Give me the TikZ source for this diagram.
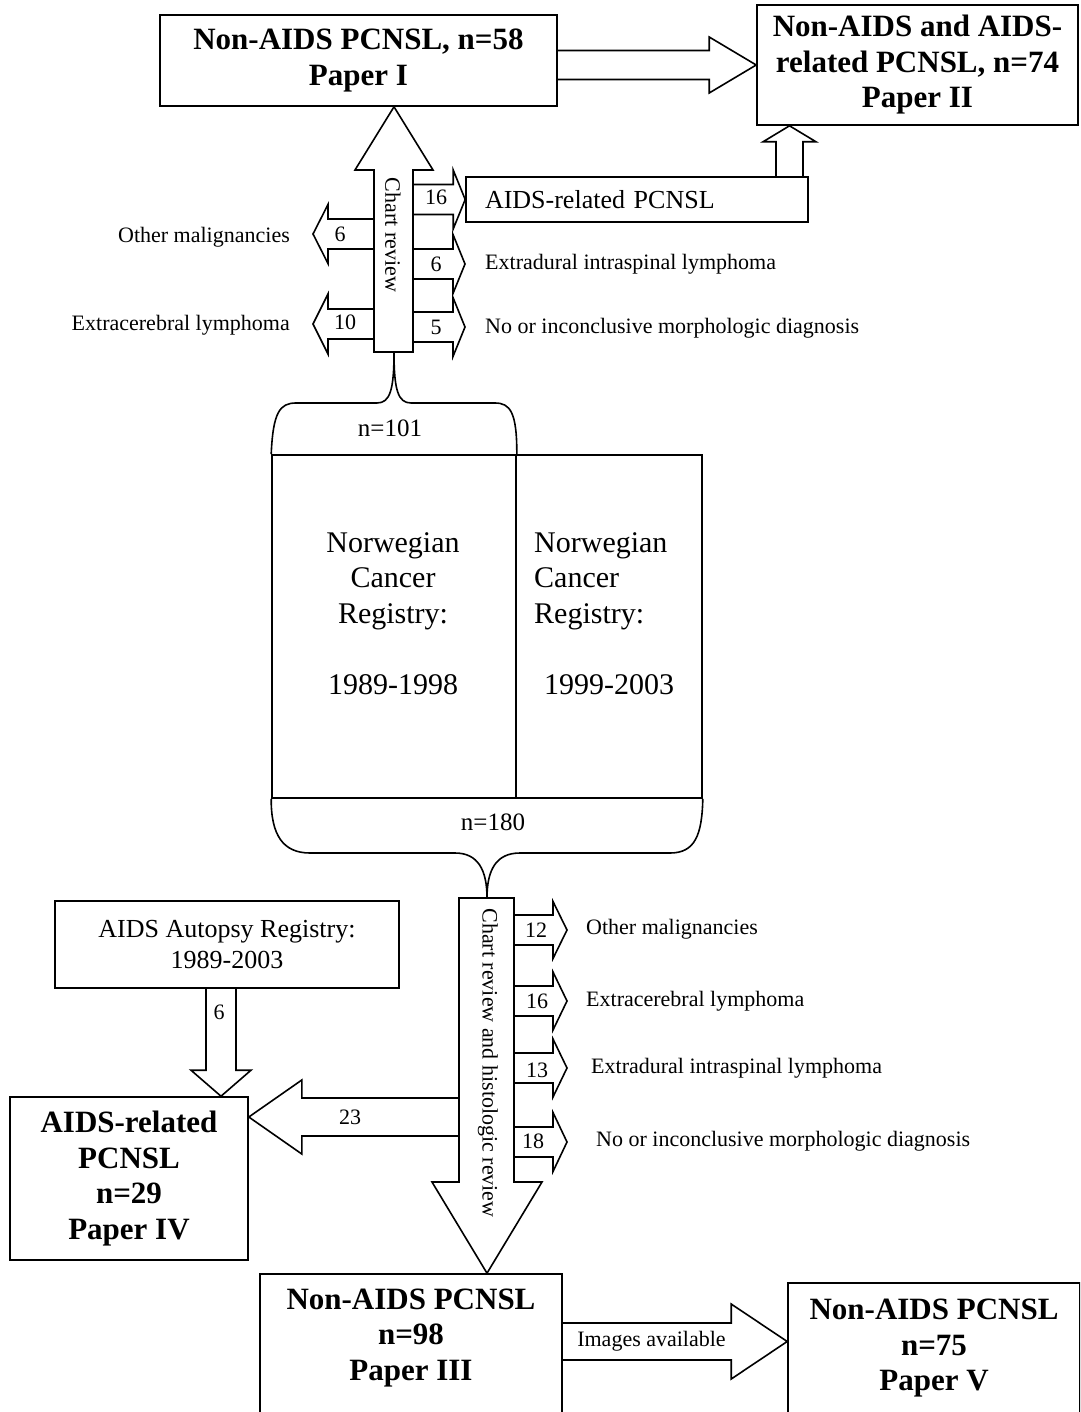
\documentclass[tikz,border=0pt]{standalone}
\usepackage{fontspec}
\setmainfont{Liberation Serif}
\usetikzlibrary{positioning, calc}
\newcommand{\hblock}[5]{%
    \draw[blockarrow] let \p1=(#1), \p2=(#2) in
        (\x1,{\y2+#4}) -- ({\x2+(#3)},{\y2+#4}) -- ({\x2+(#3)},{\y2+#5}) -- (\p2)
        -- ({\x2+(#3)},{\y2-#5}) -- ({\x2+(#3)},{\y2-#4}) -- (\x1,{\y2-#4});}
\newcommand{\vblock}[5]{%
    \draw[blockarrow] let \p1=(#1), \p2=(#2) in
        ({\x2-#4},\y1) -- ({\x2-#4},{\y2+(#3)}) -- ({\x2-#5},{\y2+(#3)}) -- (\p2)
        -- ({\x2+#5},{\y2+(#3)}) -- ({\x2+#4},{\y2+(#3)}) -- ({\x2+#4},\y1);}

\begin{document}
\begin{tikzpicture}[
    x=1pt, y=-1pt,
    every node/.style={inner sep=0pt},
    box/.style={draw=black, line width=1.6pt},
    papertext/.style={font=\fontsize{31}{35.5}\selectfont\bfseries, align=center},
    regtext/.style={font=\fontsize{30}{35.5}\selectfont},
    midtext/.style={font=\fontsize{26}{31}\selectfont, align=center},
    smalltext/.style={font=\fontsize{22}{26}\selectfont},
    blockarrow/.style={draw=black, line width=1.6pt, line join=miter},
    brace/.style={draw=black, line width=1.6pt}
]
\useasboundingbox (0,0) rectangle (1080,1412);
\clip (0,0) rectangle (1080,1412);

% papers
\node[box, papertext, minimum width=397pt, minimum height=91pt] (paper1) at (358.5,60.5) {Non-AIDS PCNSL, n=58\\Paper I};
\node[box, papertext, minimum width=321pt, minimum height=120pt] (paper2) at (917.5,65) {Non-AIDS and AIDS-\\related PCNSL, n=74\\Paper II};
\node[box, papertext, minimum width=238pt, minimum height=163pt] (paper4) at (129,1178.5) {AIDS-related\\PCNSL\\n=29\\Paper IV};
\node[box, minimum width=302pt, minimum height=146pt] (paper3) at (411,1347) {};
\node[papertext] (paper3text) at (411,1338) {Non-AIDS PCNSL\\n=98\\Paper III};
\node[box, papertext, minimum width=292pt, minimum height=131pt] (paper5) at (934,1348.5) {Non-AIDS PCNSL\\n=75\\Paper V};

% other boxes
\node[box, font=\fontsize{26}{31}\selectfont, minimum width=342pt, minimum height=45pt, inner xsep=19pt, text width=304pt, align=left] (aids) at (637,199.5) {AIDS-related PCNSL};
\node[box, midtext, minimum width=344pt, minimum height=87pt] (autopsy) at (227,944.5) {AIDS Autopsy Registry:\\1989-2003};

% registry
\node[box, minimum width=244pt, minimum height=343pt] (reg1) at (394,626.5) {};
\node[box, minimum width=186pt, minimum height=343pt] (reg2) at (609,626.5) {};
\node[regtext, align=center] (reg1text) at (393,613.5) {Norwegian\\Cancer\\Registry:\\[35.5pt]1989-1998};
\node[regtext, align=left, anchor=west] (reg2text) at (534,613.5) {Norwegian\\Cancer\\Registry:\\[35.5pt]\hspace*{10pt}1999-2003};

% braces
\draw[brace] (reg1.north west) .. controls (273,412) and (280,403) .. (296,403) -- (377,403)
    .. controls (390,403) and (394,390) .. (394,352)
    .. controls (394,390) and (398,403) .. (411,403) -- (495,403)
    .. controls (510,403) and (517,412) .. (reg1.north east);
\node[font=\fontsize{25}{30}\selectfont] (n101) at (390,428) {n=101};
\draw[brace] (reg1.south west) .. controls (271,835) and (283,853) .. (310,853) -- (455,853)
    .. controls (478,853) and (487,870) .. (487,898)
    .. controls (487,870) and (496,853) .. (520,853) -- (670,853)
    .. controls (695,853) and (702,835) .. (reg2.south east);
\node[font=\fontsize{25}{30}\selectfont] (n180) at (493,822) {n=180};

% chart review
\draw[blockarrow] (374,352) -- (374,170) -- (355,170) -- (paper1.south -| 394,0) -- (433,170) -- (413,170) -- (413,352) -- cycle;
\node[smalltext, rotate=-90] (chart) at (393,235) {Chart review};
\hblock{374,234}{313,234}{15pt}{15pt}{29.5pt}
\hblock{374,324}{313,324}{15pt}{15pt}{30pt}
\hblock{413,198}{aids.west}{-12pt}{15pt}{29.5pt}
\hblock{413,264}{465,264}{-12pt}{15pt}{29.5pt}
\hblock{413,327}{465,327}{-12pt}{15pt}{29.5pt}
\hblock{paper1.east}{paper2.west}{-47pt}{14.5pt}{28pt}
\vblock{aids.north}{paper2.south -| 789.5,0}{-16pt}{13.5pt}{26.5pt}

\node[smalltext] (c16) at (436,197) {16};
\node[smalltext] (c6a) at (340,234) {6};
\node[smalltext] (c6b) at (436,264) {6};
\node[smalltext] (c10) at (345,322) {10};
\node[smalltext] (c5) at (436,327) {5};
\node[smalltext, anchor=east] (other1) at (290,237) {Other malignancies};
\node[smalltext, anchor=east] (extra1) at (290,325) {Extracerebral lymphoma};
\node[smalltext, anchor=west] (intra1) at (485,264) {Extradural intraspinal lymphoma};
\node[smalltext, anchor=west] (nodiag1) at (485,328) {No or inconclusive morphologic diagnosis};

% histologic review
\draw[blockarrow] (459,898) -- (459,1182) -- (432,1182) -- (paper3.north -| 487,0) -- (542,1182) -- (514,1182) -- (514,898) -- cycle;
\node[smalltext, rotate=-90] (histo) at (488,1063) {Chart review and histologic review};
\hblock{514,930}{567,930}{-14pt}{15pt}{28.5pt}
\hblock{514,1001}{567,1001}{-14pt}{15pt}{29pt}
\hblock{514,1068}{567,1068}{-14pt}{15pt}{29pt}
\hblock{514,1142}{567,1142}{-14pt}{15pt}{29.5pt}
\hblock{459,1117}{paper4.east |- 0,1117}{53pt}{19pt}{37pt}
\vblock{autopsy.south}{paper4.north -| 221,0}{26pt}{15pt}{30pt}
\hblock{paper3.east |- 0,1341.5}{paper5.west |- 0,1341.5}{-56pt}{18.5pt}{37.5pt}

\node[smalltext] (h12) at (536,930) {12};
\node[smalltext] (h16) at (537,1001) {16};
\node[smalltext] (h13) at (537,1070) {13};
\node[smalltext] (h18) at (533,1141) {18};
\node[smalltext] (h23) at (350,1117) {23};
\node[smalltext] (h6) at (219,1012) {6};
\node[smalltext, anchor=west] (other2) at (586,929) {Other malignancies};
\node[smalltext, anchor=west] (extra2) at (586,1001) {Extracerebral lymphoma};
\node[smalltext, anchor=west] (intra2) at (591,1068) {Extradural intraspinal lymphoma};
\node[smalltext, anchor=west] (nodiag2) at (596,1141) {No or inconclusive morphologic diagnosis};
\node[smalltext] (images) at (651.5,1341) {Images available};

\end{tikzpicture}
\end{document}
